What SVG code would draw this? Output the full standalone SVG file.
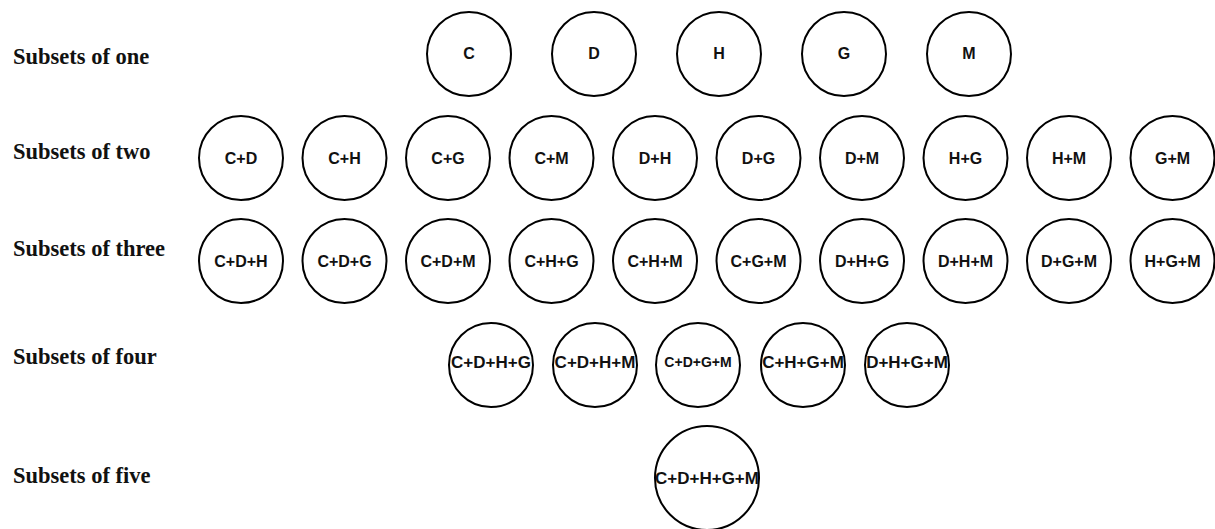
<svg xmlns="http://www.w3.org/2000/svg" width="1215" height="529" viewBox="0 0 1215 529">
<style>
.row{font-family:"Liberation Serif","Times New Roman",serif;font-weight:bold;font-size:22.5px;fill:#111}
.n circle{fill:#fff;stroke:#000;stroke-width:2}
.n text{font-family:"Liberation Sans",Arial,sans-serif;font-weight:bold;font-size:16px;fill:#111;text-anchor:middle;dominant-baseline:central}
.s1 text{font-size:16px}
.s4 text{font-size:17px}
.sm text{font-size:14px}
</style>
<rect width="1215" height="529" fill="#fff"/>
<g id="row-labels">
<text class="row" x="13" y="64">Subsets of one</text>
<text class="row" x="13" y="159">Subsets of two</text>
<text class="row" x="13" y="256">Subsets of three</text>
<text class="row" x="13" y="364">Subsets of four</text>
<text class="row" x="13" y="483">Subsets of five</text>
</g>
<g id="connectors"></g>
<g id="n-C" class="n s1"><circle cx="469" cy="54" r="42"/><text x="469" y="53">C</text></g>
<g id="n-D" class="n s1"><circle cx="594" cy="54" r="42"/><text x="594" y="53">D</text></g>
<g id="n-H" class="n s1"><circle cx="719" cy="54" r="42"/><text x="719" y="53">H</text></g>
<g id="n-G" class="n s1"><circle cx="844" cy="54" r="42"/><text x="844" y="53">G</text></g>
<g id="n-M" class="n s1"><circle cx="969" cy="54" r="42"/><text x="969" y="53">M</text></g>

<g id="n-CD" class="n"><circle cx="241" cy="158" r="42"/><text x="241" y="158">C+D</text></g>
<g id="n-CH" class="n"><circle cx="344.5" cy="158" r="42"/><text x="344.5" y="158">C+H</text></g>
<g id="n-CG" class="n"><circle cx="448" cy="158" r="42"/><text x="448" y="158">C+G</text></g>
<g id="n-CM" class="n"><circle cx="551.5" cy="158" r="42"/><text x="551.5" y="158">C+M</text></g>
<g id="n-DH" class="n"><circle cx="655" cy="158" r="42"/><text x="655" y="158">D+H</text></g>
<g id="n-DG" class="n"><circle cx="758.5" cy="158" r="42"/><text x="758.5" y="158">D+G</text></g>
<g id="n-DM" class="n"><circle cx="862" cy="158" r="42"/><text x="862" y="158">D+M</text></g>
<g id="n-HG" class="n"><circle cx="965.5" cy="158" r="42"/><text x="965.5" y="158">H+G</text></g>
<g id="n-HM" class="n"><circle cx="1069" cy="158" r="42"/><text x="1069" y="158">H+M</text></g>
<g id="n-GM" class="n"><circle cx="1172.5" cy="158" r="42"/><text x="1172.5" y="158">G+M</text></g>

<g id="n-CDH" class="n"><circle cx="241" cy="261" r="42"/><text x="241" y="261">C+D+H</text></g>
<g id="n-CDG" class="n"><circle cx="344.5" cy="261" r="42"/><text x="344.5" y="261">C+D+G</text></g>
<g id="n-CDM" class="n"><circle cx="448" cy="261" r="42"/><text x="448" y="261">C+D+M</text></g>
<g id="n-CHG" class="n"><circle cx="551.5" cy="261" r="42"/><text x="551.5" y="261">C+H+G</text></g>
<g id="n-CHM" class="n"><circle cx="655" cy="261" r="42"/><text x="655" y="261">C+H+M</text></g>
<g id="n-CGM" class="n"><circle cx="758.5" cy="261" r="42"/><text x="758.5" y="261">C+G+M</text></g>
<g id="n-DHG" class="n"><circle cx="862" cy="261" r="42"/><text x="862" y="261">D+H+G</text></g>
<g id="n-DHM" class="n"><circle cx="965.5" cy="261" r="42"/><text x="965.5" y="261">D+H+M</text></g>
<g id="n-DGM" class="n"><circle cx="1069" cy="261" r="42"/><text x="1069" y="261">D+G+M</text></g>
<g id="n-HGM" class="n"><circle cx="1172.5" cy="261" r="42"/><text x="1172.5" y="261">H+G+M</text></g>

<g id="n-CDHG" class="n s4"><circle cx="491" cy="365" r="42"/><text x="491" y="362">C+D+H+G</text></g>
<g id="n-CDHM" class="n s4"><circle cx="595" cy="365" r="42"/><text x="595" y="362">C+D+H+M</text></g>
<g id="n-CDGM" class="n sm"><circle cx="698" cy="365" r="42"/><text x="698" y="362">C+D+G+M</text></g>
<g id="n-CHGM" class="n s4"><circle cx="803" cy="365" r="42"/><text x="803" y="362">C+H+G+M</text></g>
<g id="n-DHGM" class="n s4"><circle cx="907" cy="365" r="42"/><text x="907" y="362">D+H+G+M</text></g>

<g id="n-CDHGM" class="n s4"><circle cx="707" cy="478" r="52"/><text x="707" y="478">C+D+H+G+M</text></g>
</svg>
